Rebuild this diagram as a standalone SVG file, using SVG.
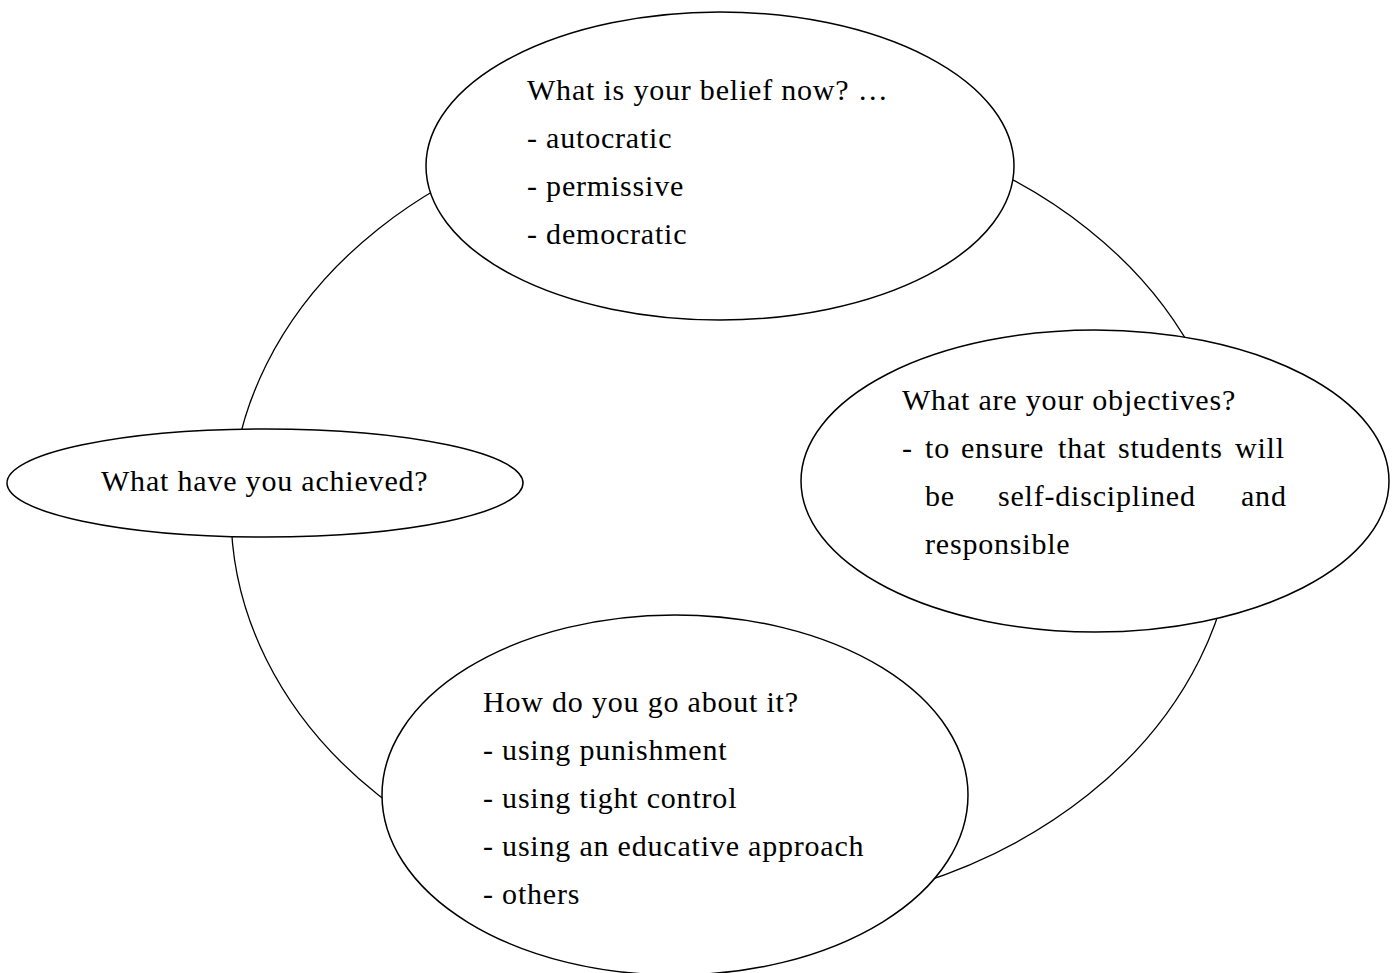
<svg xmlns="http://www.w3.org/2000/svg" width="1394" height="973" viewBox="0 0 1394 973">
<style>
.sh{fill:#fff;stroke:#000;stroke-width:1.5}
.ring{fill:none;stroke:#000;stroke-width:1.3}
text{font-family:"Liberation Serif","Times New Roman",serif;font-size:30px;letter-spacing:0.8px;fill:#000}
</style>
<rect width="1394" height="973" fill="#fff"/>
<g id="connectors">
<ellipse class="ring" cx="733" cy="512" rx="502" ry="400"/>
</g>
<g id="belief">
<ellipse class="sh" cx="720" cy="166" rx="294" ry="154"/>
<text x="527" y="100">What is your belief now? …</text>
<text x="527" y="148">- autocratic</text>
<text x="527" y="196">- permissive</text>
<text x="527" y="244">- democratic</text>
</g>
<g id="achieved">
<ellipse class="sh" cx="265" cy="483" rx="258" ry="54"/>
<text x="101" y="491">What have you achieved?</text>
</g>
<g id="objectives">
<ellipse class="sh" cx="1095" cy="481" rx="294" ry="151"/>
<text x="902" y="410">What are your objectives?</text>
<text y="458"><tspan x="902">-</tspan><tspan x="925">to</tspan><tspan x="961">ensure</tspan><tspan x="1058">that</tspan><tspan x="1118">students</tspan><tspan x="1235">will</tspan></text>
<text y="506"><tspan x="925">be</tspan><tspan x="998">self-disciplined</tspan><tspan x="1241">and</tspan></text>
<text x="925" y="554">responsible</text>
</g>
<g id="approach">
<ellipse class="sh" cx="675" cy="795" rx="293" ry="180"/>
<text x="483" y="712">How do you go about it?</text>
<text x="483" y="760">- using punishment</text>
<text x="483" y="808">- using tight control</text>
<text x="483" y="856">- using an educative approach</text>
<text x="483" y="904">- others</text>
</g>
</svg>
